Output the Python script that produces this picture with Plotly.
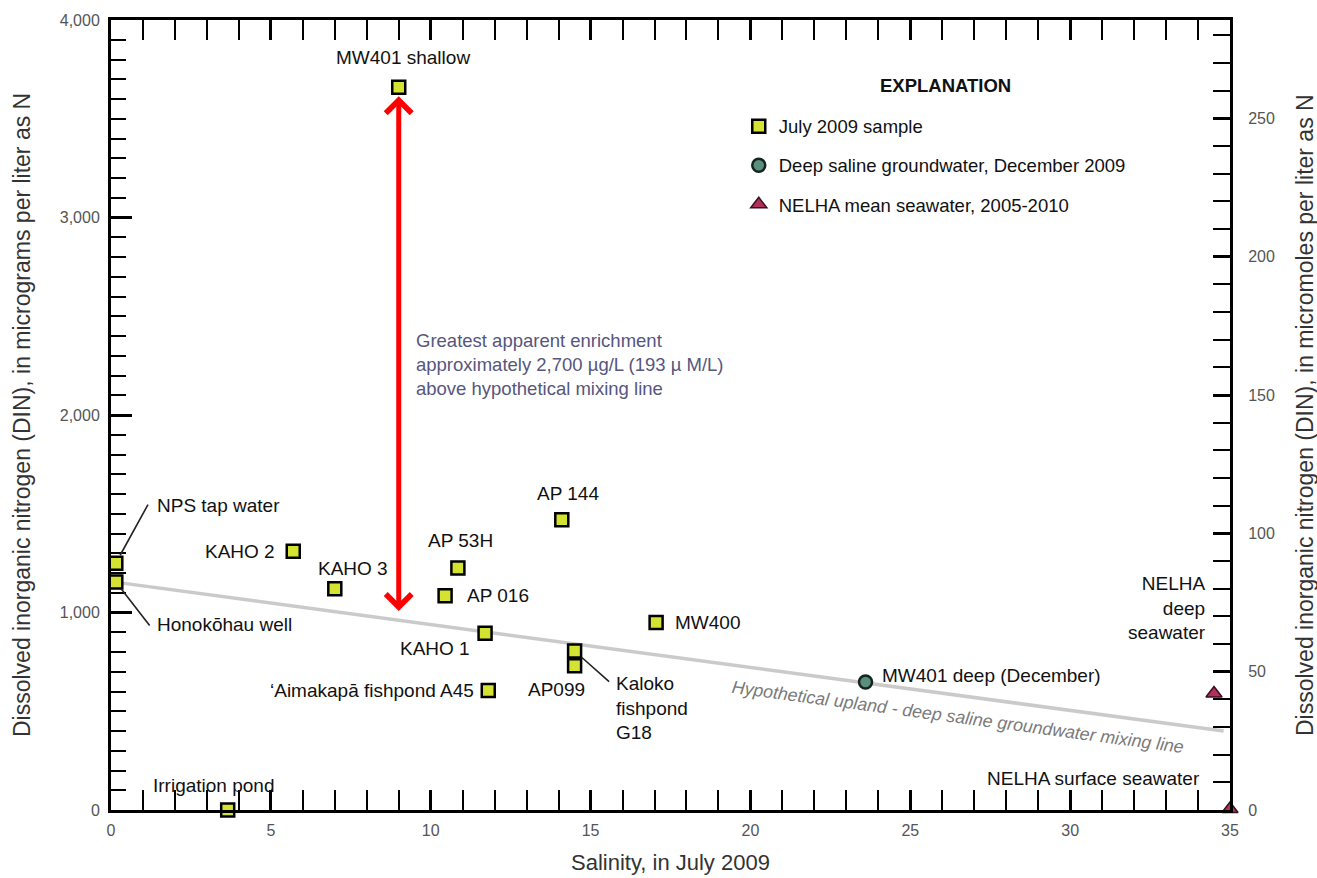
import plotly.graph_objects as go

# ---- July 2009 samples: salinity and dissolved inorganic nitrogen (ug/L as N)
sample_names = [
    "MW401 shallow", "NPS tap water", "Honokōhau well", "KAHO 2", "KAHO 3",
    "AP 53H", "AP 016", "AP 144", "KAHO 1", "ʻAimakapā fishpond A45",
    "Kaloko fishpond G18", "AP099", "MW400", "Irrigation pond",
]
sample_salinity = [9.0, 0.15, 0.15, 5.7, 7.0, 10.85, 10.45, 14.1, 11.7, 11.8, 14.5, 14.5, 17.05, 3.65]
sample_din = [3660, 1250, 1155, 1310, 1120, 1225, 1085, 1470, 895, 605, 805, 730, 950, 0]

# ---- Deep saline groundwater, December 2009
deep_names = ["MW401 deep (December)"]
deep_salinity = [23.6]
deep_din = [648]

# ---- NELHA mean seawater, 2005-2010
nelha_names = ["NELHA deep seawater", "NELHA surface seawater"]
nelha_salinity = [34.5, 35.0]
nelha_din = [590, 5]

# ---- Hypothetical upland / deep saline groundwater mixing line
mixing_salinity = [0.3, 34.8]
mixing_din = [1150, 400]

# ---- Greatest apparent enrichment above the mixing line
enrichment_ugL = 2700
enrichment_uM = 193

UG_PER_UMOL_N = 14.007
X_RANGE = [0, 35]
Y_RANGE = [0, 4000]

FONT = "Liberation Sans, Arial, sans-serif"
SQUARE_FILL = "#d4e331"

fig = go.Figure()

fig.add_trace(go.Scatter(
    x=mixing_salinity, y=mixing_din, mode="lines",
    line=dict(color="rgba(150,150,150,0.5)", width=3.5),
    showlegend=False, hoverinfo="skip",
))

fig.add_trace(go.Scatter(
    x=sample_salinity, y=sample_din, text=sample_names, mode="markers",
    name="July 2009 sample", legendgroup="a",
    marker=dict(symbol="square", size=13, color=SQUARE_FILL,
                line=dict(color="black", width=2.5)),
    cliponaxis=False,
))

fig.add_trace(go.Scatter(
    x=deep_salinity, y=deep_din, text=deep_names, mode="markers",
    name="Deep saline groundwater, December 2009", legendgroup="b",
    marker=dict(symbol="circle", size=13, color="#5b8f7d",
                line=dict(color="#14241f", width=2.5)),
    cliponaxis=False,
))

fig.add_trace(go.Scatter(
    x=nelha_salinity, y=nelha_din, text=nelha_names, mode="markers",
    name="NELHA mean seawater, 2005-2010", legendgroup="c",
    marker=dict(symbol="triangle-up", size=14, color="#b0305a",
                line=dict(color="#3a1020", width=1.5)),
    cliponaxis=False,
))

# companion trace so the micromole axis is drawn
fig.add_trace(go.Scatter(x=[None], y=[None], yaxis="y2", showlegend=False, hoverinfo="skip"))

# ---- point labels: (xanchor, xshift, yshift) in pixels relative to each point
label_place = {
    "MW401 shallow": ("center", 4, 30),
    "NPS tap water": ("left", 39, 58),
    "Honokōhau well": ("left", 39, -43),
    "KAHO 2": ("right", -16, 0),
    "KAHO 3": ("center", 18, 20),
    "AP 53H": ("center", 3, 28),
    "AP 016": ("left", 20, 0),
    "AP 144": ("center", 6, 26),
    "KAHO 1": ("right", -13, -15),
    "ʻAimakapā fishpond A45": ("right", -12, 0),
    "Kaloko fishpond G18": ("left", 39, -57),
    "AP099": ("center", -18, -24),
    "MW400": ("left", 17, 0),
    "Irrigation pond": ("center", -14, 25),
    "MW401 deep (December)": ("left", 14, 7),
    "NELHA deep seawater": ("right", -6, 85),
    "NELHA surface seawater": ("right", -28, 31),
}
label_text = {
    "Kaloko fishpond G18": "Kaloko<br>fishpond<br>G18",
    "NELHA deep seawater": "NELHA<br>deep<br>seawater",
}
# leader lines: (tail dx, tail dy) in pixels from the point
leaders = {
    "NPS tap water": (33, -60),
    "Honokōhau well": (35, 45),
    "Kaloko fishpond G18": (36, 32),
}

annotations = []
all_names = sample_names + deep_names + nelha_names
all_x = sample_salinity + deep_salinity + nelha_salinity
all_y = sample_din + deep_din + nelha_din
for name, sx, sy in zip(all_names, all_x, all_y):
    xa, dx, dy = label_place[name]
    annotations.append(dict(
        x=sx, y=sy, xref="x", yref="y", text=label_text.get(name, name),
        showarrow=False, xanchor=xa, yanchor="middle", xshift=dx, yshift=dy,
        align=xa if xa != "center" else "center",
        font=dict(family=FONT, size=19, color="#111111"),
    ))
    if name in leaders:
        tx, ty = leaders[name]
        annotations.append(dict(
            x=sx, y=sy, xref="x", yref="y", text="", showarrow=True,
            ax=tx, ay=ty, arrowhead=0, arrowwidth=1.6, arrowcolor="#222222",
            standoff=9,
        ))

# double-headed enrichment arrow at the MW401 shallow salinity
shallow_x = sample_salinity[sample_names.index("MW401 shallow")]
shallow_y = sample_din[sample_names.index("MW401 shallow")]
arrow_base = shallow_y - enrichment_ugL
annotations.append(dict(
    x=shallow_x, y=shallow_y, ax=shallow_x, ay=arrow_base,
    xref="x", yref="y", axref="x", ayref="y", text="", showarrow=True,
    arrowside="end+start", arrowhead=4, startarrowhead=4,
    arrowwidth=5, arrowsize=1, startarrowsize=1, arrowcolor="#ff0000",
    standoff=9, startstandoff=8,
))
annotations.append(dict(
    x=shallow_x, y=(shallow_y + arrow_base) / 2, xref="x", yref="y",
    text=("Greatest apparent enrichment<br>"
          f"approximately {enrichment_ugL:,} µg/L ({enrichment_uM} µ M/L)<br>"
          "above hypothetical mixing line"),
    showarrow=False, xanchor="left", yanchor="middle", xshift=15, yshift=-11,
    align="left", font=dict(family=FONT, size=18.5, color="#56567e"),
))

# mixing line caption, laid along the line
cap_x = 26.5
t = (cap_x - mixing_salinity[0]) / (mixing_salinity[1] - mixing_salinity[0])
cap_y = mixing_din[0] + t * (mixing_din[1] - mixing_din[0])
annotations.append(dict(
    x=cap_x, y=cap_y, xref="x", yref="y",
    text="Hypothetical upland - deep saline groundwater mixing line",
    showarrow=False, textangle=7.6, yshift=-22,
    font=dict(family=FONT, size=17.8, color="#7a7a7a", style="italic"),
))

# legend heading
annotations.append(dict(
    x=(945 - 111) / 1119, y=(810 - 85) / 790, xref="paper", yref="paper",
    text="<b>EXPLANATION</b>", showarrow=False, xanchor="center", yanchor="middle",
    font=dict(family=FONT, size=18.5, color="#111111"),
))

# axis titles
annotations += [
    dict(x=0.5, y=0, xref="paper", yref="paper", yanchor="middle", yshift=-52,
         text="Salinity, in July 2009", showarrow=False,
         font=dict(family=FONT, size=22, color="#333333")),
    dict(x=0, y=0.5, xref="paper", yref="paper", xanchor="center", xshift=-89,
         text="Dissolved inorganic nitrogen (DIN), in micrograms per liter as N",
         textangle=-90, showarrow=False,
         font=dict(family=FONT, size=23, color="#333333")),
    dict(x=1, y=0.5, xref="paper", yref="paper", xanchor="center", xshift=75,
         text="Dissolved inorganic nitrogen (DIN), in micromoles per liter as N",
         textangle=-90, showarrow=False,
         font=dict(family=FONT, size=23, color="#333333")),
]

tick_font = dict(family=FONT, size=16, color="#555555")

fig.update_layout(
    width=1317, height=878, autosize=False,
    margin=dict(l=111, r=87, t=20, b=68),
    paper_bgcolor="white", plot_bgcolor="white",
    font=dict(family=FONT, color="#111111"),
    xaxis=dict(
        range=X_RANGE, dtick=5, tick0=0, ticks="inside", ticklen=20, tickwidth=2.5,
        tickcolor="black", minor=dict(dtick=1, ticks="inside", ticklen=13, tickwidth=2,
                                      tickcolor="black"),
        showline=True, linewidth=3, linecolor="black", mirror="allticks",
        showgrid=False, zeroline=False, tickfont=tick_font, ticklabelstandoff=4,
    ),
    yaxis=dict(
        range=Y_RANGE, dtick=1000, tick0=0, tickformat=",", ticks="inside", ticklen=21,
        tickwidth=2.5, tickcolor="black",
        minor=dict(dtick=100, ticks="inside", ticklen=15, tickwidth=2, tickcolor="black"),
        showline=True, linewidth=3, linecolor="black", mirror=False,
        showgrid=False, zeroline=False, tickfont=tick_font, ticklabelstandoff=5,
    ),
    yaxis2=dict(
        overlaying="y", side="right",
        range=[Y_RANGE[0] / UG_PER_UMOL_N, Y_RANGE[1] / UG_PER_UMOL_N],
        dtick=50, tick0=0, ticks="inside", ticklen=17, tickwidth=2.5, tickcolor="black",
        minor=dict(dtick=10, ticks="inside", ticklen=17, tickwidth=2, tickcolor="black"),
        showline=True, linewidth=3, linecolor="black",
        showgrid=False, zeroline=False, tickfont=tick_font, ticklabelstandoff=12,
    ),
    legend=dict(
        x=0.561, y=0.889, xanchor="left", yanchor="top", bgcolor="rgba(0,0,0,0)",
        font=dict(family=FONT, size=18.5, color="#111111"),
        tracegroupgap=12,
    ),
    annotations=annotations,
)

fig.write_html("out.html")
